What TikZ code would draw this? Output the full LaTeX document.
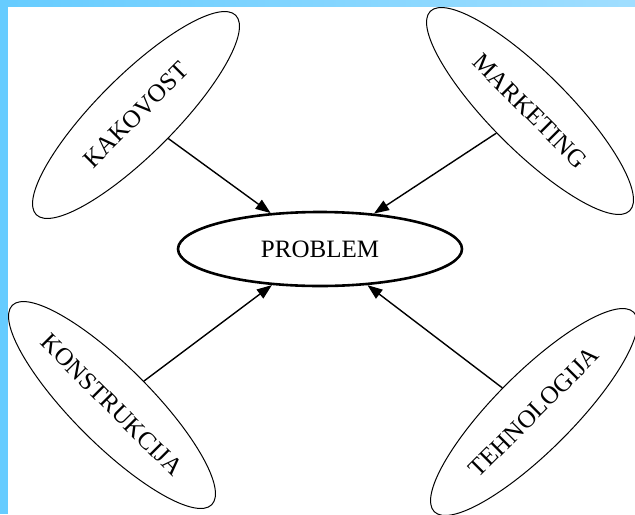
\documentclass[tikz,border=0pt]{standalone}
\usepackage{fontspec}
\setmainfont{Liberation Serif}
\usepackage{tikz}
\usetikzlibrary{shapes.geometric,arrows.meta,positioning}
\definecolor{frameblue}{RGB}{102,204,255}
\definecolor{framelight}{RGB}{160,222,255}

\begin{document}
\begin{tikzpicture}[
        x=0.5pt, y=-0.5pt, font=\fontsize{12.5}{14}\selectfont,
        cause/.style={ellipse, draw, line width=0.5pt, inner sep=0pt, minimum width=141pt, minimum height=39pt},
        core/.style={ellipse, draw, line width=1.3pt, inner sep=0pt, minimum width=142pt, minimum height=37pt},
        arr/.style={-{Triangle[length=7.5pt,width=5.5pt]}, line width=0.7pt}
    ]
        % frame
        \useasboundingbox (0,0) rectangle (635,514);
        \fill[white] (0,0) rectangle (635,514);
        \fill[left color=frameblue, right color=framelight] (0,0) rectangle (635,6);
        \fill[frameblue] (0,0) rectangle (8,514);

        \node[core] (problem) at (320,249) {PROBLEM};
        \node[cause, rotate=45] (kakovost) at (136,115) {KAKOVOST};
        \node[cause, rotate=-45] (marketing) at (530,111) {MARKETING};
        \node[cause, rotate=-45] (konstrukcija) at (112,405) {KONSTRUKCIJA};
        \node[cause, rotate=45] (tehnologija) at (534,412) {TEHNOLOGIJA};
        \draw[arr] (kakovost) -- (problem);
        \draw[arr] (marketing) -- (problem);
        \draw[arr] (konstrukcija) -- (problem);
        \draw[arr] (tehnologija) -- (problem);
    \end{tikzpicture}
\end{document}
